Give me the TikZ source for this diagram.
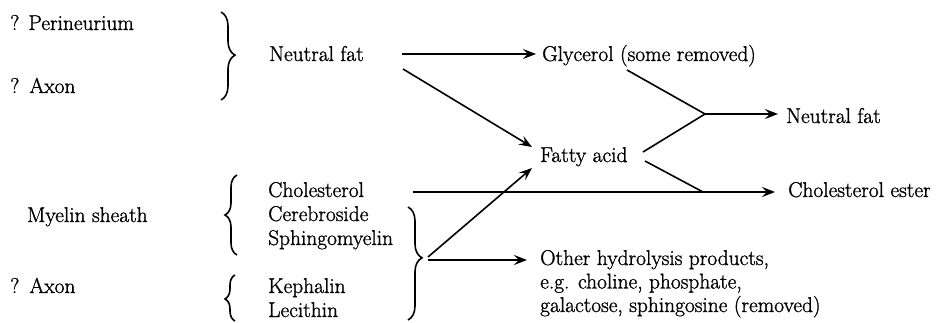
\documentclass[tikz,border=0pt]{standalone}
\usepackage{fontspec}
\setmainfont{Latin Modern Roman}[FakeBold=1.2]
\usetikzlibrary{arrows.meta,decorations.pathreplacing,calc}
\begin{document}
\begin{tikzpicture}[x=1pt,y=-1pt,
  txt/.style={anchor=base west,inner sep=0pt,font=\fontsize{21.4}{23.5}\selectfont},
  ln/.style={line width=1.6pt},
  arr/.style={ln,-{Stealth[length=13pt,width=10pt,inset=5pt]}},
  brc/.style={decorate,decoration={brace,amplitude=#1},line width=1.6pt}]
\useasboundingbox (0,0) rectangle (944,323);
% left column
\node[txt] (q1) at (10,30) {?\hspace{9pt}Perineurium};
\node[txt] (q2) at (10,93) {?\hspace{10pt}Axon};
\node[txt] (ms) at (27,222) {Myelin sheath};
\node[txt] (q3) at (10,293) {?\hspace{10pt}Axon};
% braces
\draw[brc=14pt,decoration={aspect=0.49}] (221,12) -- (221,100);
\draw[brc=12pt,decoration={aspect=0.5}] (237,255) -- (237,175);
\draw[brc=10pt,decoration={aspect=0.48}] (235,321) -- (235,275);
\draw[brc=14pt,decoration={aspect=0.45}] (408,207) -- (408,320);
% middle column
\node[txt] (nf1) at (269,61) {Neutral fat};
\node[txt] (chol) at (268,197) {Cholesterol};
\node[txt] (cer) at (268,221) {Cerebroside};
\node[txt] (sph) at (268,245) {Sphingomyelin};
\node[txt] (kep) at (268,293) {Kephalin};
\node[txt] (lec) at (268,317) {Lecithin};
% right column
\node[txt] (gly) at (542,61) {Glycerol (some removed)};
\node[txt] (fa) at (540,162) {Fatty acid};
\node[txt] (nf2) at (786,123) {Neutral fat};
\node[txt] (ce) at (788,197) {Cholesterol ester};
\node[txt] (oh1) at (540,265) {Other hydrolysis products,};
\node[txt] (oh2) at (540,288.5) {e.g. choline, phosphate,};
\node[txt] (oh3) at (540,312) {galactose, sphingosine (removed)};
% coordinates
\coordinate (a1) at (402,54);
\coordinate (a1e) at (536,54);
\coordinate (a2) at (403,69);
\coordinate (a2e) at (532,147);
\coordinate (g1) at (627,70);
\coordinate (j1) at (705,114);
\coordinate (f1) at (643,152);
\coordinate (j1e) at (778,114);
\coordinate (f2) at (645,161);
\coordinate (j2) at (703,192);
\coordinate (c1) at (413,192);
\coordinate (c1e) at (775,192);
\coordinate (bt) at (428,257);
\coordinate (bte) at (532,168);
\coordinate (h1) at (428,260);
\coordinate (h1e) at (527,260);
% connectors
\draw[arr] (a1) -- (a1e);
\draw[arr] (a2) -- (a2e);
\draw[ln] (g1) -- (j1);
\draw[ln] (f1) -- (j1);
\draw[arr] (j1) -- (j1e);
\draw[ln] (f2) -- (j2);
\draw[arr] (c1) -- (c1e);
\draw[arr] (bt) -- (bte);
\draw[arr] (h1) -- (h1e);
\end{tikzpicture}
\end{document}
